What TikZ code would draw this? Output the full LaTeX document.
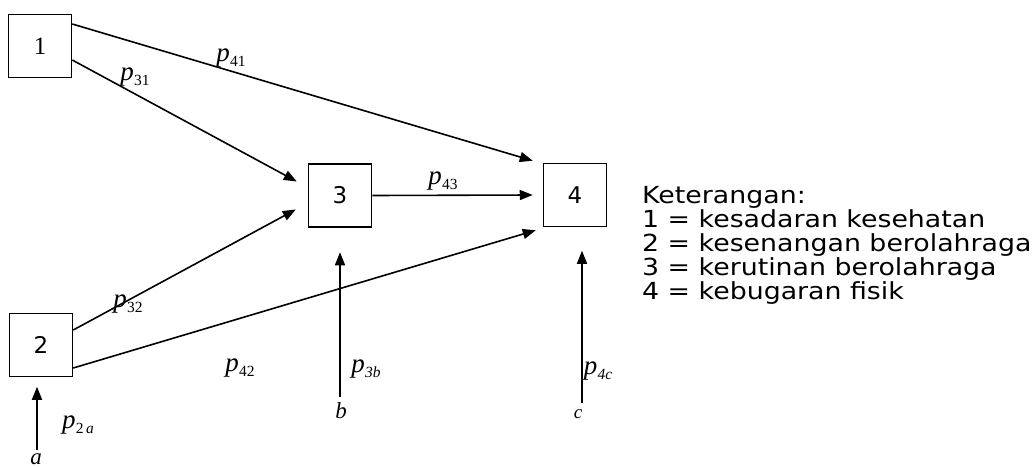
\documentclass[tikz,border=0pt]{standalone}
\usepackage{fontspec}
\setmainfont{Liberation Serif}
\newfontfamily\legfont[FakeStretch=1.14]{DejaVu Sans}
\newfontfamily\boxfont{DejaVu Sans}
\usetikzlibrary{arrows.meta,calc}
\begin{document}
\begin{tikzpicture}[x=1pt,y=-1pt,
  box/.style={draw,line width=1.5pt,minimum width=63pt,minimum height=63pt,inner sep=0pt},
  arr/.style={line width=1.6pt,-{Triangle[length=13pt,width=10pt]}},
  lab/.style={inner sep=0pt,font=\fontsize{27}{28}\selectfont},
  letter/.style={inner sep=0pt,font=\fontsize{23}{24}\selectfont\itshape}]
\useasboundingbox (0,0) rectangle (1033,466);
\newcommand{\pl}[1]{\textit{p}\kern0.3pt\raisebox{-0.18em}{\fontsize{15.5}{16}\selectfont #1}}
\node[box] (n1) at (40,46) {\fontsize{25}{26}\selectfont 1};
\node[box] (n2) at (41,345) {\boxfont\fontsize{23}{24}\selectfont 2};
\node[box] (n3) at (340,195.5) {\boxfont\fontsize{23}{24}\selectfont 3};
\node[box] (n4) at (575,195) {\boxfont\fontsize{23}{24}\selectfont 4};
% exogenous letters
\node[letter,anchor=base] (a) at (36,464) {a};
\node[letter,anchor=base] (b) at (341,418) {b};
\node[letter,anchor=base,font=\fontsize{19}{20}\selectfont\itshape] (c) at (578,418) {c};
% connectors
\draw[arr] ($(n1.east)+(0,-22)$) -- ($(n4.north west)+(-10,-2)$);
\draw[arr] ($(n1.east)+(0,14)$) -- ($(n3.west)+(-11,-14)$);
\draw[arr] (n3.east) -- ($(n4.west)+(-10,0)$);
\draw[arr] ($(n2.east)+(0,-15)$) -- ($(n3.west)+(-12,14)$);
\draw[arr] ($(n2.east)+(0,23)$) -- ($(n4.south west)+(-7,3)$);
\draw[arr] ($(a.north)+(1,-3)$) -- ($(n2.south)+(-4,9.5)$);
\draw[arr] ($(b.north)+(-1,-5)$) -- ($(n3.south)+(0,24.5)$);
\draw[arr] ($(c.north)+(4,-6)$) -- ($(n4.south)+(7,23.5)$);
% path coefficient labels
\node[lab] (l41) at (231,58) {\pl{41}};
\node[lab] (l31) at (135,77) {\pl{31}};
\node[lab] (l43) at (443,181) {\pl{43}};
\node[lab] (l32) at (128,304) {\pl{32}};
\node[lab] (l42) at (240,368) {\pl{42}};
\node[lab] (l3b) at (366,369) {\pl{\textit{3b}}};
\node[lab] (l4c) at (598,371) {\pl{\textit{4c}}};
\node[lab] (l2a) at (78,425) {\pl{2\,\textit{a}}};
% legend
\node[anchor=base west,align=left,inner sep=0pt,font=\legfont\fontsize{23.5}{24}\selectfont] (leg) at (642,299)
  {Keterangan:\\1 = kesadaran kesehatan\\2 = kesenangan berolahraga\\3 = kerutinan berolahraga\\4 = kebugaran fisik};
\end{tikzpicture}
\end{document}
